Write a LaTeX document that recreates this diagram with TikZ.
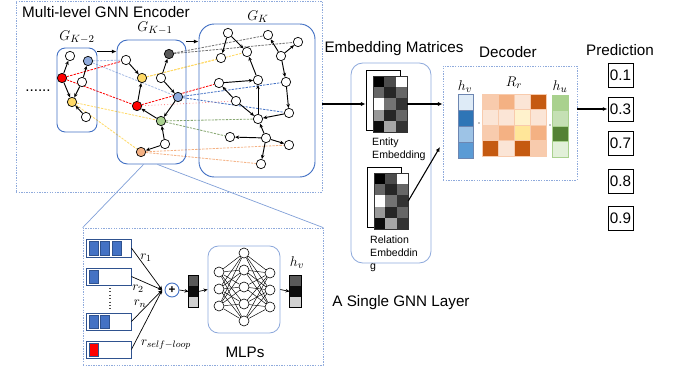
\documentclass[tikz,border=0pt]{standalone}
\usepackage{fontspec}
\setmainfont{Liberation Sans}
\usepackage{amsmath}
\usepackage{xcolor}
\usetikzlibrary{arrows.meta,fit,backgrounds,positioning}

\definecolor{gblue}{HTML}{4472C4}
\definecolor{lblue}{HTML}{8FAADC}
\definecolor{nred}{HTML}{FF0000}
\definecolor{nblue}{HTML}{8FAADC}
\definecolor{nyellow}{HTML}{FFD966}
\definecolor{ngray}{HTML}{595959}
\definecolor{ngreen}{HTML}{A9D18E}
\definecolor{norange}{HTML}{F4B183}
\definecolor{oLight}{HTML}{F8CBAD}
\definecolor{oMid}{HTML}{F4B183}
\definecolor{oPale}{HTML}{FBE5D6}
\definecolor{oDark}{HTML}{C55A11}
\definecolor{yPale}{HTML}{FFF2CC}
\definecolor{yMid}{HTML}{FFE699}
\definecolor{bPale}{HTML}{DEEBF7}
\definecolor{bDark}{HTML}{2E75B6}
\definecolor{bLight}{HTML}{9DC3E6}
\definecolor{bMid}{HTML}{5B9BD5}
\definecolor{gMid}{HTML}{A9D18E}
\definecolor{gLight}{HTML}{C5E0B4}
\definecolor{gDark}{HTML}{548235}
\definecolor{gPale}{HTML}{E2F0D9}
\definecolor{bardark}{HTML}{2F528F}

\begin{document}
\begin{tikzpicture}[x=0.03cm,y=-0.03cm,
    gnode/.style={circle,draw,line width=0.6pt,fill=white,minimum size=0.28cm,inner sep=0pt},
    garrow/.style={-{Stealth[length=3.5pt,width=3pt]},line width=0.8pt},
    link/.style={dash pattern=on 2pt off 1pt,line width=0.7pt},
    gbox/.style={draw=gblue,line width=0.8pt,inner sep=0pt},
    dotbox/.style={draw=lblue,dash pattern=on 1.2pt off 1pt,line width=0.6pt,inner sep=0pt},
    flow/.style={-{Latex[length=4pt,width=3.5pt]},line width=0.9pt},
    title/.style={font=\fontsize{13}{15}\selectfont,inner sep=0pt},
    small/.style={font=\fontsize{9}{11}\selectfont,align=left,inner sep=0pt},
    pred/.style={draw,line width=0.8pt,minimum width=0.75cm,minimum height=0.72cm,font=\fontsize{13}{15}\selectfont,inner sep=0pt},
    nn/.style={circle,draw,line width=0.5pt,fill=white,minimum size=0.3cm,inner sep=0pt},
    mlab/.style={font=\fontsize{13}{15}\selectfont,inner sep=0pt},
    rlab/.style={font=\fontsize{11}{12}\selectfont,inner sep=0pt}
]
\useasboundingbox (0,0) rectangle (677,369);

% encoder frame and the three levels
\node[dotbox,fit={(16,1) (322,192)}] (enc) {};
\node[title,anchor=west] (enctitle) at (22,12) {Multi-level GNN Encoder};
\node[gbox,rounded corners=7pt,fit={(57,48) (97,132)}] (k2box) {};
\node[gbox,rounded corners=9pt,fit={(117,40) (186,164)}] (k1box) {};
\node[gbox,rounded corners=13pt,fit={(199,24) (315,177)}] (kbox) {};
\node[mlab] (lk2) at (77,37) {$G_{K-2}$};
\node[mlab] (lk1) at (155,28) {$G_{K-1}$};
\node[mlab] (lk) at (258,17) {$G_{K}$};
\node[title] (dots) at (38,91) {......};
\draw[flow] ([yshift=-0.12cm]k2box.north east) -- ([yshift=-0.12cm]k2box.north east -| k1box.west);
\draw[flow] ([yshift=-0.06cm]k1box.north east) -- ([yshift=-0.06cm]k1box.north east -| kbox.west);

% level K-2
\node[gnode] (k2w1) at (70,56) {};
\node[gnode,fill=nblue] (k2b) at (88,61) {};
\node[gnode,fill=nred] (k2r) at (62,78) {};
\node[gnode] (k2w2) at (82,82) {};
\node[gnode,fill=nyellow] (k2y) at (72,102) {};
\node[gnode] (k2w3) at (86,117) {};
\draw[garrow] (k2r) -- (k2w1);
\draw[garrow] (k2r) -- (k2y);
\draw[garrow] (k2w2) -- (k2b);
\draw[garrow] (k2w2) -- (k2y);
\draw[garrow] (k2w3) -- (k2y);

% level K-1
\node[gnode] (k1w1) at (126,60) {};
\node[gnode,fill=ngray] (k1g) at (169,54) {};
\node[gnode,fill=nyellow] (k1y) at (142,78) {};
\node[gnode] (k1w2) at (161,78) {};
\node[gnode,fill=nblue] (k1b) at (178,97) {};
\node[gnode,fill=nred] (k1r) at (137,106) {};
\node[gnode,fill=ngreen] (k1gr) at (161,121) {};
\node[gnode] (k1w3) at (165,144) {};
\node[gnode,fill=norange] (k1o) at (141,152) {};
\draw[garrow] (k1w1) -- (k1y);
\draw[garrow] (k1w2) -- (k1g);
\draw[garrow] (k1w2) -- (k1b);
\draw[garrow] (k1r) -- (k1y);
\draw[garrow] (k1b) -- (k1gr);
\draw[garrow] (k1gr) -- (k1r);
\draw[garrow] (k1w3) -- (k1gr);
\draw[garrow] (k1w3) -- (k1o);

% level K
\node[gnode] (ka) at (228,33) {};
\node[gnode] (kb) at (268,35) {};
\node[gnode] (kc) at (298,42) {};
\node[gnode] (kd) at (221,58) {};
\node[gnode] (ke) at (247,52) {};
\node[gnode] (kf) at (281,56) {};
\node[gnode] (kg) at (219,83) {};
\node[gnode] (kh) at (258,80) {};
\node[gnode] (ki) at (286,82) {};
\node[gnode] (kj) at (236,101) {};
\node[gnode] (kk) at (289,113) {};
\node[gnode] (kl) at (258,119) {};
\node[gnode] (km) at (230,137) {};
\node[gnode] (kn) at (266,138) {};
\node[gnode] (ko) at (289,145) {};
\node[gnode] (kp) at (261,164) {};
\draw[garrow] (ka) -- (kd);
\draw[garrow] (ka) -- (ke);
\draw[garrow] (kf) -- (kb);
\draw[garrow] (kf) -- (kc);
\draw[garrow] (kf) -- (ki);
\draw[garrow] (kh) -- (ke);
\draw[garrow] (kg) -- (kh);
\draw[garrow] (ki) -- (kk);
\draw[garrow] (kj) -- (kg);
\draw[garrow] (kj) -- (kl);
\draw[garrow] (kl) -- (kh);
\draw[garrow] (kk) -- (kl);
\draw[garrow] (kn) -- (kl);
\draw[garrow] (kn) -- (km);
\draw[garrow] (kn) -- (ko);
\draw[garrow] (kn) -- (kp);

% links between levels
\begin{scope}[on background layer]
  \draw[link,nblue!80] (k2b) -- (k1w1);
  \draw[link,nblue!80] (k2b) -- (k1b);
  \draw[link,nred] (k2r) -- (k1w1);
  \draw[link,nred] (k2r) -- (k1r);
  \draw[link,nyellow] (k2y) -- (k1gr);
  \draw[link,nyellow] (k2y) -- (k1o);
  \draw[link,black!55] (k1g) -- (kb);
  \draw[link,black!55] (k1g) -- (kc);
  \draw[link,nyellow] (k1y) -- (kd);
  \draw[link,nyellow] (k1y) -- (ke);
  \draw[link,gblue] (k1b) -- (ki);
  \draw[link,gblue] (k1b) -- (kk);
  \draw[link,nred] (k1r) -- (kg);
  \draw[link,nred!45,dotted] (k1r) -- (kj);
  \draw[link,ngreen!80!black] (k1gr) -- (kl);
  \draw[link,ngreen!80!black] (k1gr) -- (km);
  \draw[link,norange] (k1o) -- (ko);
  \draw[link,norange] (k1o) -- (kp);
\end{scope}

% a single GNN layer
\node[dotbox,fit={(83,228) (323,365)}] (layer) {};
\draw[lblue!80!gblue,line width=0.6pt] ([xshift=-0.24cm]k1box.south) -- (layer.north west);
\draw[lblue!80!gblue,line width=0.6pt] ([xshift=0.18cm]k1box.south) -- (layer.north east);
\node[draw=bardark,line width=0.7pt,fit={(86,239) (131,257)},inner sep=0pt] (bar1) {};
\node[draw=bardark,line width=0.7pt,fit={(86,268) (131,285)},inner sep=0pt] (bar2) {};
\node[draw=bardark,line width=0.7pt,fit={(86,313) (131,330)},inner sep=0pt] (bar3) {};
\node[draw=bardark,line width=0.7pt,fit={(86,341) (131,358)},inner sep=0pt] (bar4) {};
\foreach \x in {89.3,100.7,112.7}
  \filldraw[fill=gblue,draw=bardark,line width=0.4pt] (\x,241) rectangle ++(8.7,14);
\filldraw[fill=gblue,draw=bardark,line width=0.4pt] (89.3,270) rectangle ++(8.7,13.5);
\foreach \x in {89.3,100.7}
  \filldraw[fill=gblue,draw=bardark,line width=0.4pt] (\x,315) rectangle ++(8.7,13.5);
\filldraw[fill=nred,draw=bardark,line width=0.4pt] (89.3,343) rectangle ++(8.7,13.5);
\draw[dotted,line width=0.9pt,black!70] (110,288) -- (110,310);
\node[circle,draw=gblue,line width=0.8pt,minimum size=0.42cm,inner sep=0pt,font=\bfseries] (plus) at (172,290) {+};
\coordinate (sum) at ([xshift=-2pt]plus.west);
\foreach \b in {bar1,bar2,bar3,bar4}
  \draw[-{Stealth[length=3.5pt,width=3pt]},line width=0.6pt] (\b.east) -- (sum);
\node[rlab] (r1) at (146,258) {$r_1$};
\node[rlab] (r2) at (138,289) {$r_2$};
\node[rlab] (rn) at (140,304) {$r_n$};
\node[rlab] (rself) at (166,345) {$r_{self-loop}$};

\node[draw,line width=0.6pt,fit={(189,276) (198,307)},inner sep=0pt] (vin) {};
\fill[ngray] (189,276) rectangle (198,286.3);
\fill[black!95] (189,286.3) rectangle (198,296.7);
\fill[black!18] (189,296.7) rectangle (198,307);
\draw[line width=0.6pt] (vin.north west) rectangle (vin.south east);
\node[draw=lblue,line width=0.7pt,rounded corners=9pt,fit={(208,246) (280,333)},inner sep=0pt] (mlp) {};
\foreach \i/\y in {1/272,2/289,3/306}
  \node[nn] (na\i) at (219,\y) {};
\foreach \i/\y in {1/253,2/270,3/287,4/304,5/321}
  \node[nn] (nb\i) at (244,\y) {};
\foreach \i/\y in {1/273,2/290,3/307}
  \node[nn] (nc\i) at (270,\y) {};
\begin{scope}[on background layer]
  \foreach \i in {1,2,3}
    \foreach \j in {1,...,5}
    {
      \draw[line width=0.4pt] (na\i) -- (nb\j);
      \draw[line width=0.4pt] (nb\j) -- (nc\i);
    }
\end{scope}
\node[mlab] (mlplab) at (245,352) {MLPs};
\node[draw,line width=0.6pt,fit={(290,276) (301,307)},inner sep=0pt] (vout) {};
\fill[ngray] (290,276) rectangle (301,286.3);
\fill[black!95] (290,286.3) rectangle (301,296.7);
\fill[black!18] (290,296.7) rectangle (301,307);
\draw[line width=0.6pt] (vout.north west) rectangle (vout.south east);
\node[mlab] (hvout) at (297,263) {$h_v$};
\draw[-{Stealth[length=3.5pt,width=3pt]},line width=0.6pt] (plus.east) -- (vin.west);
\draw[-{Stealth[length=3.5pt,width=3pt]},line width=0.6pt] (vin.east) -- (mlp.west);
\draw[-{Stealth[length=3.5pt,width=3pt]},line width=0.6pt] (mlp.east) -- (vout.west);
\node[title] (layerlab) at (401,303) {A Single GNN Layer};

% embedding matrices
\node[title] (embtitle) at (394,49) {Embedding Matrices};
\node[draw=lblue,line width=0.7pt,rounded corners=10pt,fit={(351,63) (431,263)},inner sep=0pt] (embbox) {};
\node[draw,fill=white,line width=0.6pt,fit={(366,70) (400,130)},inner sep=0pt] (entb) {};
\node[fit={(373,76) (407,132)},inner sep=0pt] (ent) {};
\node[draw,fill=white,line width=0.6pt,fit={(367,167) (401,227)},inner sep=0pt] (relb) {};
\node[fit={(374,173) (408,229)},inner sep=0pt] (rel) {};
\foreach \ox/\oy in {373/76,374/173}
{
  \begin{scope}[shift={(\ox,\oy)}]
    \foreach \i/\a/\b/\c in {0/100/70/0,1/60/85/60,2/0/55/80,3/40/85/60,4/95/35/80}
    {
      \fill[black!\a] (0,\i*11.2) rectangle ++(11.33,11.2);
      \fill[black!\b] (11.33,\i*11.2) rectangle ++(11.33,11.2);
      \fill[black!\c] (22.67,\i*11.2) rectangle ++(11.33,11.2);
    }
    \draw[line width=0.4pt,black!80] (0,0) rectangle (34,56);
  \end{scope}
}
\node[small,anchor=north west] (entlab) at (372,138) {Entity\\Embedding};
\node[small,anchor=north west] (rellab) at (370,236) {Relation\\Embeddin\\g};
\draw[flow] (enc.east |- ent.west) -- (entb.west |- ent.west);

% decoder
\node[title] (dectitle) at (508,52) {Decoder};
\node[dotbox,fit={(443,66) (577,180)}] (dec) {};
\draw[flow] (ent.east) -- (ent.east -| dec.west);
\coordinate (relend) at (440,147);
\draw[flow] (rel.east) -- (relend);
\foreach \i/\c in {0/bPale,1/bDark,2/bLight,3/bMid}
  \filldraw[fill=\c,draw=bardark!70,line width=0.5pt] (458,94+\i*16) rectangle ++(15,16);
\foreach \i/\c in {0/gMid,1/gLight,2/gDark,3/gPale}
  \filldraw[fill=\c,draw=gMid,line width=0.5pt] (552,95+\i*15.5) rectangle ++(16,15.5);
\foreach \i/\a/\b/\c/\d in {0/oLight/oMid/oPale/oDark,1/oPale/oPale/yPale/oPale,2/oLight/oMid/yMid/oMid,3/oDark/oPale/oDark/oLight}
{
  \filldraw[fill=\a,draw=oLight,line width=0.5pt] (482,94+\i*15.5) rectangle ++(16,15.5);
  \filldraw[fill=\b,draw=oLight,line width=0.5pt] (498,94+\i*15.5) rectangle ++(16,15.5);
  \filldraw[fill=\c,draw=oLight,line width=0.5pt] (514,94+\i*15.5) rectangle ++(16,15.5);
  \filldraw[fill=\d,draw=oLight,line width=0.5pt] (530,94+\i*15.5) rectangle ++(16,15.5);
}
\fill (479,123) circle (0.5pt);
\fill (550,125) circle (0.5pt);
\node[mlab] (hvdec) at (465,87) {$h_v$};
\node[mlab] (rr) at (514,83) {$R_r$};
\node[mlab] (hu) at (560,87) {$h_u$};

% prediction
\node[title] (predtitle) at (620,50) {Prediction};
\node[pred] (p1) at (620.5,75.5) {0.1};
\node[pred] (p2) at (620.5,109) {0.3};
\node[pred] (p3) at (620.5,143.5) {0.7};
\node[pred] (p4) at (620.5,181.5) {0.8};
\node[pred] (p5) at (620.5,218.5) {0.9};
\draw[flow] (dec.east |- p2) -- (p2.west);
\end{tikzpicture}
\end{document}
